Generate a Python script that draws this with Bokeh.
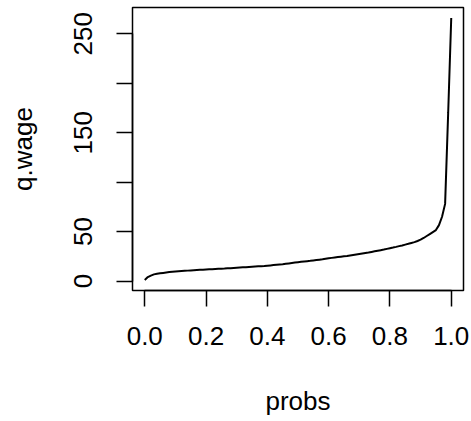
from bokeh.plotting import figure
from bokeh.models import Range1d, FixedTicker
from bokeh.embed import file_html
from bokeh.resources import INLINE

probs = [i / 100 for i in range(101)]
q_wage = [
    1.0, 4.0, 5.5, 6.7, 7.3, 7.8, 8.2, 8.6, 9.0, 9.3,
    9.6, 9.9, 10.1, 10.3, 10.5, 10.7, 10.9, 11.1, 11.3, 11.5,
    11.7, 11.9, 12.0, 12.2, 12.4, 12.5, 12.6, 12.8, 13.0, 13.2,
    13.4, 13.6, 13.8, 14.0, 14.2, 14.4, 14.6, 14.8, 15.0, 15.2,
    15.5, 15.8, 16.1, 16.4, 16.7, 17.0, 17.4, 17.8, 18.2, 18.6,
    19.0, 19.4, 19.8, 20.1, 20.4, 20.8, 21.2, 21.6, 22.0, 22.5,
    23.0, 23.4, 23.8, 24.2, 24.6, 25.0, 25.3, 25.8, 26.3, 26.8,
    27.3, 27.8, 28.3, 28.8, 29.4, 30.0, 30.6, 31.2, 31.8, 32.5,
    33.2, 33.8, 34.5, 35.3, 36.0, 36.8, 37.6, 38.5, 39.3, 40.5,
    41.8, 43.5, 45.5, 47.5, 49.5, 51.5, 56.5, 65.0, 78.0, 170.0,
    266.0,
]
x_ticks = [0.0, 0.2, 0.4, 0.6, 0.8, 1.0]
x_tick_labels = ["0.0", "0.2", "0.4", "0.6", "0.8", "1.0"]
y_ticks = [0, 50, 100, 150, 200, 250]
y_tick_labels = ["0", "50", "", "150", "", "250"]

FONT = "Liberation Sans"

xmin, xmax = min(probs), max(probs)
ymin, ymax = min(q_wage), max(q_wage)
xpad = 0.04 * (xmax - xmin)
ypad = 0.04 * (ymax - ymin)

p = figure(
    width=471, height=421,
    output_backend="svg", toolbar_location=None,
    x_range=Range1d(xmin - xpad, xmax + xpad),
    y_range=Range1d(ymin - ypad, ymax + ypad),
    min_border_left=132, min_border_right=8,
    min_border_top=7, min_border_bottom=131,
)
p.background_fill_color = "white"
p.border_fill_color = "white"
p.outline_line_color = "black"
p.outline_line_width = 1.5
p.xgrid.visible = False
p.ygrid.visible = False

p.line(probs, q_wage, line_color="black", line_width=2)

for ax, ticks, labels, bounds in (
    (p.xaxis[0], x_ticks, x_tick_labels, (x_ticks[0], x_ticks[-1])),
    (p.yaxis[0], y_ticks, y_tick_labels, (y_ticks[0], y_ticks[-1])),
):
    ax.ticker = FixedTicker(ticks=ticks)
    ax.major_label_overrides = {t: l for t, l in zip(ticks, labels)}
    ax.bounds = bounds
    ax.minor_tick_line_color = None
    ax.major_tick_in = 0
    ax.major_tick_out = 16
    ax.major_tick_line_width = 1.5
    ax.axis_line_width = 1.5
    ax.major_label_text_font = FONT
    ax.major_label_text_font_size = "26px"
    ax.major_label_text_color = "black"
    ax.axis_label_text_font = FONT
    ax.axis_label_text_font_size = "26px"
    ax.axis_label_text_font_style = "normal"
    ax.axis_label_text_color = "black"

p.xaxis.axis_label = "probs"
p.yaxis.axis_label = "q.wage"
p.xaxis.major_label_standoff = 20
p.yaxis.major_label_standoff = 24
p.yaxis.major_label_orientation = "vertical"
p.xaxis.axis_label_standoff = 38
p.yaxis.axis_label_standoff = 34

open("out.html", "w").write(file_html(p, INLINE))
